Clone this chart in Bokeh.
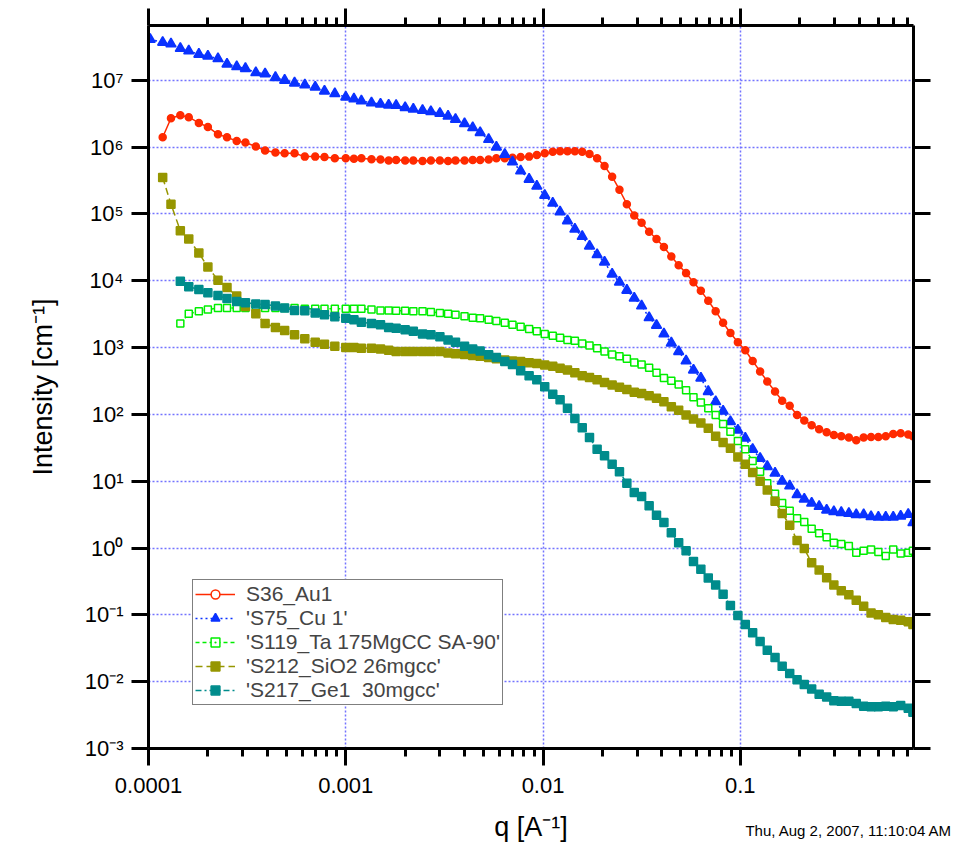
from bokeh.plotting import figure
from bokeh.models import (LogAxis, FixedTicker, CustomJSTickFormatter, Range1d,
                          Legend, LegendItem, ColumnDataSource)
from bokeh.embed import file_html
from bokeh.resources import INLINE

nan = float("nan")

# ---------------- data ----------------
q = [1.02e-4, 1.18e-4, 1.30e-4, 1.45e-4, 1.60e-4, 1.80e-4, 2.00e-4, 2.25e-4, 2.50e-4, 2.80e-4,
     3.10e-4, 3.50e-4, 3.90e-4, 4.40e-4, 4.90e-4, 5.50e-4, 6.20e-4, 7.00e-4, 7.80e-4, 8.80e-4,
     1.00e-3, 1.10e-3, 1.20e-3, 1.35e-3, 1.50e-3, 1.65e-3, 1.80e-3, 2.00e-3, 2.20e-3, 2.45e-3,
     2.70e-3, 3.00e-3, 3.30e-3, 3.60e-3, 4.00e-3, 4.40e-3, 4.80e-3, 5.30e-3, 5.80e-3, 6.40e-3,
     7.00e-3, 7.70e-3, 8.50e-3, 9.30e-3,
     1.02e-2, 1.12e-2, 1.22e-2, 1.33e-2, 1.45e-2, 1.58e-2, 1.72e-2, 1.88e-2, 2.05e-2, 2.24e-2,
     2.44e-2, 2.66e-2, 2.90e-2, 3.16e-2, 3.45e-2, 3.76e-2, 4.10e-2, 4.47e-2, 4.87e-2, 5.31e-2,
     5.79e-2, 6.31e-2, 6.88e-2, 7.50e-2, 8.18e-2, 8.91e-2, 9.72e-2,
     0.106, 0.1155, 0.126, 0.137, 0.150, 0.163, 0.178, 0.194, 0.211, 0.230,
     0.251, 0.274, 0.298, 0.325, 0.355, 0.387, 0.422, 0.460, 0.501, 0.546,
     0.596, 0.650, 0.710, 0.750]

I_S36_Au1 = [nan, 1.4e6, 2.7e6, 3.0e6, 2.8e6, 2.3e6, 2.0e6, 1.55e6, 1.4e6, 1.23e6,
             1.17e6, 1.02e6, 8.9e5, 8.3e5, 8.1e5, 8.1e5, 7.2e5, 7.2e5, 7.1e5, 6.8e5,
             6.8e5, 6.7e5, 6.8e5, 6.6e5, 6.5e5, 6.3e5, 6.4e5, 6.3e5, 6.3e5, 6.2e5,
             6.3e5, 6.3e5, 6.2e5, 6.3e5, 6.3e5, 6.4e5, 6.4e5, 6.5e5, 6.8e5, 6.8e5,
             6.9e5, 7.1e5, 7.2e5, 7.6e5,
             8.1e5, 8.5e5, 8.7e5, 8.7e5, 8.7e5, 8.5e5, 7.9e5, 6.8e5, 5.2e5, 3.6e5,
             2.3e5, 1.4e5, 9.5e4, 7.4e4, 5.4e4, 4.2e4, 3.2e4, 2.3e4, 1.7e4, 1.3e4,
             9.5e3, 7.1e3, 5.0e3, 3.5e3, 2.35e3, 1.65e3, 1.2e3,
             910, 630, 440, 310, 220, 160, 135, 98, 81, 69,
             60, 54, 49, 47, 45, 41, 45, 46, 46, 47,
             51, 52, 50, 47]

I_S75_Cu1 = [4.1e7, 3.7e7, 3.5e7, 3.0e7, 2.75e7, 2.45e7, 2.3e7, 2.1e7, 1.75e7, 1.6e7,
             1.5e7, 1.3e7, 1.25e7, 1.1e7, 1.0e7, 9.1e6, 8.5e6, 7.9e6, 6.9e6, 6.3e6,
             5.6e6, 5.25e6, 4.9e6, 4.6e6, 4.4e6, 4.25e6, 4.2e6, 3.9e6, 3.7e6, 3.55e6,
             3.4e6, 3.2e6, 2.9e6, 2.6e6, 2.25e6, 1.95e6, 1.65e6, 1.3e6, 1.0e6, 7.8e5,
             6.0e5, 4.4e5, 3.3e5, 2.6e5,
             1.9e5, 1.45e5, 1.07e5, 7.9e4, 5.9e4, 4.6e4, 3.3e4, 2.45e4, 1.9e4, 1.26e4,
             9.5e3, 7.2e3, 5.5e3, 4.2e3, 2.8e3, 2.15e3, 1.6e3, 1.17e3, 870, 630,
             460, 350, 220, 155, 112, 78, 58,
             44, 30, 22, 16.6, 13.2, 10, 8.5, 6.3, 5.4, 4.7,
             4.2, 3.7, 3.5, 3.4, 3.3, 3.16, 3.16, 2.95, 2.9, 2.9,
             2.9, 3.0, 3.2, 2.4]

I_S119_Ta = [nan, nan, nan, 2.3e3, 3.2e3, 3.5e3, 3.7e3, 3.9e3, 3.9e3, 3.9e3,
             3.9e3, 3.9e3, 3.9e3, 3.9e3, 3.9e3, 3.9e3, 3.8e3, 3.8e3, 3.8e3, 3.8e3,
             3.8e3, 3.8e3, 3.8e3, 3.7e3, 3.6e3, 3.6e3, 3.55e3, 3.55e3, 3.5e3, 3.5e3,
             3.4e3, 3.3e3, 3.2e3, 3.1e3, 2.95e3, 2.8e3, 2.75e3, 2.6e3, 2.5e3, 2.35e3,
             2.2e3, 2.05e3, 1.9e3, 1.75e3,
             1.6e3, 1.5e3, 1.4e3, 1.3e3, 1.26e3, 1.15e3, 1.07e3, 980, 870, 790,
             740, 680, 600, 560, 500, 420, 350, 320, 280, 230,
             180, 150, 123, 98, 72, 55, 40,
             30, 20, 13.8, 9.3, 6.5, 4.7, 3.6, 2.8, 2.45, 1.95,
             1.66, 1.45, 1.2, 1.15, 1.07, 0.85, 0.91, 0.95, 0.87, 0.76,
             0.95, 0.83, 0.85, 0.91]

I_S212_SiO2 = [nan, 3.5e5, 1.4e5, 5.6e4, 4.2e4, 2.6e4, 1.6e4, 1.02e4, 7.9e3, 5.9e3,
               4.1e3, 3.2e3, 2.3e3, 2.0e3, 1.8e3, 1.55e3, 1.35e3, 1.2e3, 1.12e3, 1.05e3,
               1000, 1000, 980, 980, 950, 910, 870, 870, 870, 870,
               870, 870, 830, 810, 790, 760, 740, 710, 680, 650,
               630, 620, 590, 575,
               550, 525, 490, 460, 420, 380, 355, 330, 300, 275,
               255, 235, 215, 205, 190, 175, 155, 130, 115, 98,
               85, 74, 62, 47, 38, 31, 23,
               18, 13.5, 10, 7.4, 5.0, 3.3, 2.2, 1.3, 0.98, 0.60,
               0.47, 0.36, 0.28, 0.23, 0.20, 0.166, 0.135, 0.107, 0.10, 0.091,
               0.085, 0.083, 0.079, 0.072]

I_S217_Ge1 = [nan, nan, nan, 9.8e3, 8.1e3, 7.4e3, 6.6e3, 6.0e3, 5.4e3, 4.9e3,
              4.7e3, 4.5e3, 4.4e3, 4.2e3, 3.9e3, 3.6e3, 3.55e3, 3.3e3, 3.1e3, 2.9e3,
              2.75e3, 2.6e3, 2.4e3, 2.3e3, 2.2e3, 2.0e3, 1.95e3, 1.85e3, 1.75e3, 1.6e3,
              1.55e3, 1.45e3, 1.3e3, 1.2e3, 1.05e3, 950, 890, 780, 710, 620,
              560, 450, 380, 330,
              260, 200, 166, 123, 87, 63, 45, 30, 24, 18,
              13.8, 9.3, 6.8, 5.9, 4.3, 3.1, 2.4, 1.7, 1.2, 0.91,
              0.63, 0.48, 0.355, 0.28, 0.204, 0.138, 0.098,
              0.072, 0.054, 0.040, 0.0295, 0.023, 0.017, 0.0132, 0.0107, 0.0091, 0.0078,
              0.0065, 0.0059, 0.0052, 0.0051, 0.0051, 0.0047, 0.0043, 0.0042, 0.0042, 0.0043,
              0.0042, 0.0044, 0.0040, 0.0035]

legend_labels = ["S36_Au1", "'S75_Cu 1'", "'S119_Ta 175MgCC SA-90'",
                 "'S212_SiO2 26mgcc'", "'S217_Ge1  30mgcc'"]

x_ticks = [1e-4, 1e-3, 1e-2, 1e-1]
x_tick_labels = ["0.0001", "0.001", "0.01", "0.1"]
y_ticks = [1e-3, 1e-2, 1e-1, 1e0, 1e1, 1e2, 1e3, 1e4, 1e5, 1e6, 1e7]
y_tick_labels = ["10\u207b\u00b3", "10\u207b\u00b2", "10\u207b\u00b9", "10\u2070", "10\u00b9",
                 "10\u00b2", "10\u00b3", "10\u2074", "10\u2075", "10\u2076", "10\u2077"]

x_label = "q [A\u207b\u00b9]"
y_label = "Intensity [cm\u207b\u00b9]"
stamp = "Thu, Aug 2, 2007, 11:10:04 AM"

# ---------------- styles / layout constants ----------------
styles = [
    dict(color="#ff2a00", dash="solid", marker="circle", size=7, fill="#ff2a00",
         lmarker="circle", lfill="white"),
    dict(color="#0a32ff", dash="2 3", marker="triangle", size=10, fill="#0a32ff",
         lmarker="triangle", lfill="#0a32ff"),
    dict(color="#00ee00", dash="4 3", marker="square", size=7, fill="white",
         lmarker="square_dot", lfill="white"),
    dict(color="#969600", dash="7 4", marker="square", size=8, fill="#969600",
         lmarker="square_x", lfill="#969600"),
    dict(color="#008c8c", dash="6 3 2 3", marker="square", size=8, fill="#008c8c",
         lmarker="square", lfill="#008c8c"),
]
series = [I_S36_Au1, I_S75_Cu1, I_S119_Ta, I_S212_SiO2, I_S217_Ge1]
for s in series:
    assert len(s) == len(q), len(s)

FONT = "Liberation Sans"
STAMP_POS = 0.356   # horizontal anchor (centre) of the time stamp, in axis units

p = figure(width=965, height=845, x_axis_type="log", y_axis_type="log",
           x_range=Range1d(1e-4, 0.755), y_range=Range1d(1e-3, 6.6e7),
           output_backend="svg", toolbar_location=None, title=None,
           min_border_left=148, min_border_right=52, min_border_top=25, min_border_bottom=97)
p.background_fill_color = "white"
p.border_fill_color = "white"
p.outline_line_color = None

FMT_CODE = """
let best = 0, d = 1e9;
for (let i = 0; i < t.length; i++) {
  const e = Math.abs(Math.log10(tick) - Math.log10(t[i]));
  if (e < d) { d = e; best = i; }
}
return d < 0.01 ? l[best] : '';
"""
xfmt = CustomJSTickFormatter(args=dict(t=x_ticks, l=x_tick_labels), code=FMT_CODE)
yfmt = CustomJSTickFormatter(args=dict(t=y_ticks, l=y_tick_labels), code=FMT_CODE)

xminor = [m * b for b in x_ticks for m in range(2, 10)]

bottom = p.xaxis[0]
left = p.yaxis[0]
bottom.ticker = FixedTicker(ticks=x_ticks, minor_ticks=xminor)
left.ticker = FixedTicker(ticks=y_ticks, minor_ticks=[])
bottom.formatter = xfmt
left.formatter = yfmt

top = LogAxis(ticker=FixedTicker(ticks=x_ticks, minor_ticks=xminor))
right = LogAxis(ticker=FixedTicker(ticks=y_ticks, minor_ticks=[]))
p.add_layout(top, "above")
p.add_layout(right, "right")

for ax in (bottom, left, top, right):
    ax.axis_line_width = 3
    ax.axis_line_color = "black"
    ax.major_tick_line_width = 3
    ax.major_tick_line_color = "black"
    ax.major_tick_out = 17
    ax.major_tick_in = 0
    ax.minor_tick_line_width = 3
    ax.minor_tick_line_color = "black"
    ax.minor_tick_out = 8
    ax.minor_tick_in = 0
    ax.major_label_text_font = FONT
    ax.major_label_text_color = "black"
    ax.major_label_text_font_size = "22px"
    ax.axis_label_text_font = FONT
    ax.axis_label_text_font_style = "normal"
    ax.axis_label_text_font_size = "27px"
    ax.axis_label_text_color = "black"
for ax in (top, right):
    ax.major_label_text_font_size = "0px"
    ax.major_label_standoff = 0
    ax.major_label_text_color = None
left.major_label_standoff = 8
bottom.major_label_standoff = 12
left.axis_label = y_label
left.axis_label_standoff = 24

# outer bottom strip: carries the x-axis title and the time stamp on one line
strip = LogAxis(ticker=FixedTicker(ticks=[STAMP_POS], minor_ticks=[]),
                formatter=CustomJSTickFormatter(args=dict(s=stamp), code="return s;"))
strip.axis_line_color = None
strip.major_tick_line_color = None
strip.minor_tick_line_color = None
strip.major_tick_out = 0
strip.major_tick_in = 0
strip.minor_tick_out = 0
strip.minor_tick_in = 0
strip.major_label_text_font = FONT
strip.major_label_text_font_size = "15px"
strip.major_label_text_color = "black"
strip.major_label_standoff = 26
strip.axis_label = x_label
strip.axis_label_text_font = FONT
strip.axis_label_text_font_style = "normal"
strip.axis_label_text_font_size = "27px"
strip.axis_label_text_color = "black"
strip.axis_label_standoff = -30
p.add_layout(strip, "below")

p.xgrid.ticker = FixedTicker(ticks=x_ticks, minor_ticks=[])
p.ygrid.ticker = FixedTicker(ticks=y_ticks, minor_ticks=[])
for g in (p.xgrid, p.ygrid):
    g.grid_line_color = "#7373ff"
    g.grid_line_dash = "2 2"
    g.grid_line_width = 1.5

items = []
for lab, I, st in zip(legend_labels, series, styles):
    src = ColumnDataSource(dict(q=q, I=I))
    ln = p.line("q", "I", source=src, line_color=st["color"], line_width=1.5,
                line_dash=st["dash"])
    p.scatter("q", "I", source=src, marker=st["marker"], size=st["size"],
              fill_color=st["fill"], line_color=st["color"], line_width=1.5)
    # legend-only marker (no visible data point)
    proxy = p.scatter(x=[nan], y=[nan], marker=st["lmarker"], size=12,
                      fill_color=st["lfill"], line_color=st["color"], line_width=1.5)
    items.append(LegendItem(label=lab, renderers=[ln, proxy]))

legend = Legend(items=items, location=(44, 43))
legend.label_text_font = FONT
legend.label_text_font_size = "21px"
legend.label_height = 20
legend.glyph_width = 40
legend.glyph_height = 22
legend.spacing = 0
legend.padding = 2
legend.margin = 0
legend.label_standoff = 11
legend.border_line_color = "black"
legend.border_line_width = 1.5
legend.background_fill_color = "white"
legend.background_fill_alpha = 1
p.add_layout(legend)

open("out.html", "w").write(file_html(p, INLINE))
